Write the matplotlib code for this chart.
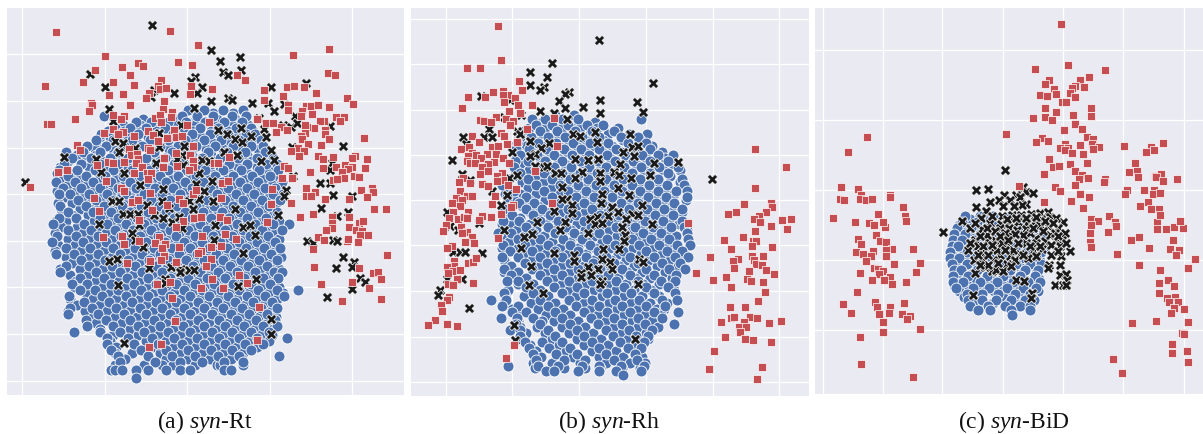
import matplotlib
matplotlib.use("Agg")
import matplotlib.pyplot as plt

LOWER = 630
captions = [("(a) ", "syn", "-Rt"), ("(b) ", "syn", "-Rh"), ("(c) ", "syn", "-BiD")]
xticks_a = [68,316,562,811,1057]
yticks_a = [163,304,445,583,723,862,1003,1143]
xticks_b = [122,322,523,724,924,1123]
yticks_b = [58,193,331,466,601,736,873,1009,1144]
xticks_c = [38,218,397,578,760,940,1123]
yticks_c = [151,361,571,780,990]

blue_a = {
330:[565,612,668,728],
348:[312,548,592,640,695,738],
366:[410,455,505,560,615,672,725],
384:[345,392,440,495,552,602,655,708,752],
402:[305,358,415,472,520,578,630,685,738,765],
420:[288,340,396,450,506,556,612,664,716,782],
438:[262,318,372,428,482,535,590,645,698,752,790],
456:[200,250,302,355,410,462,518,572,625,680,735,795],
474:[218,275,330,385,440,495,550,606,660,715,770,820],
492:[192,245,300,356,412,468,522,578,632,688,742,798,830],
510:[178,232,286,340,396,450,505,560,615,668,722,778,835],
528:[205,260,316,370,425,480,535,590,645,700,755,810],
546:[168,225,280,335,390,446,500,555,610,665,720,775,845],
564:[190,245,300,356,410,465,520,576,630,685,740,795,825],
582:[178,212,268,322,378,432,488,542,598,652,708,762,818,848],
600:[235,290,344,400,455,510,564,620,674,730,785,840],
618:[182,258,312,368,424,478,532,588,642,698,752,808],
636:[205,280,335,390,445,500,555,610,665,720,775,830],
654:[178,230,300,356,412,468,522,578,632,688,742,798],
672:[160,252,322,378,434,490,544,600,654,710,765,820,868],
690:[205,275,345,400,455,510,565,620,675,730,785,845],
708:[172,228,296,365,420,475,530,585,640,695,750,805],
726:[156,250,318,385,440,496,552,606,660,716,770,825],
744:[198,272,340,405,462,518,572,628,682,738,792,840],
762:[168,222,294,362,426,482,538,592,648,702,758,812],
780:[245,316,384,448,504,558,614,668,722,778,832],
798:[200,268,338,405,468,524,580,634,690,744,800],
816:[182,290,360,426,488,545,600,655,710,766,822,845],
834:[240,312,382,446,510,566,622,676,732,788,835],
852:[216,262,334,404,468,530,586,642,698,752,810],
870:[240,285,356,425,488,552,608,664,718,774,830,893],
888:[208,306,378,446,510,572,628,684,740,795,852],
906:[252,328,398,468,530,594,650,704,760,816],
924:[212,276,350,420,488,552,614,670,726,782,830],
942:[205,296,372,440,510,572,636,692,746,800],
960:[258,318,392,462,530,594,656,712,768,825],
978:[262,340,414,482,550,614,676,732,788,830],
996:[222,302,362,434,504,570,636,696,752,808],
1014:[322,384,456,524,592,656,716,772,860],
1032:[322,404,476,546,612,676,736,790],
1050:[335,424,498,566,634,696,754],
1068:[356,446,518,586,654,716,836],
1086:[362,466,540,606,672,730],
1110:[335,345,368,410,445,500,540,572,672,692],
1133:[410],
}
blue_a_fill = {
339:[590,640,700],
357:[430,480,530,590,650,705],
375:[370,420,470,530,585,640,695,745],
393:[325,372,418,470,525,580,632,684,735,760],
411:[302,330,385,445,495,552,605,660,712,752],
429:[290,360,412,470,530,582,638,690,745,775],
447:[255,285,340,398,452,508,560,618,670,725,775],
465:[232,290,350,410,465,522,578,632,690,742,805],
483:[205,260,312,368,424,478,534,590,646,698,755,812],
501:[180,268,328,384,440,495,550,604,660,715,770,822],
519:[172,218,300,356,412,466,522,578,634,688,742,800],
537:[190,240,298,350,405,460,516,570,626,682,736,790,838],
555:[205,262,318,372,428,484,538,594,648,704,758,815],
573:[172,228,282,338,394,448,502,558,614,668,722,780,845],
591:[195,254,310,364,420,474,530,584,640,694,750,806],
609:[175,218,274,330,386,440,496,552,606,660,716,772,828],
627:[184,240,296,350,406,462,516,570,626,682,736,792],
645:[218,266,320,374,430,484,540,594,650,704,760,818],
663:[170,200,282,340,396,452,506,562,616,672,726,782,838],
681:[185,232,300,360,416,472,526,582,638,692,748,802],
699:[165,250,320,380,438,494,548,604,658,712,768,826],
717:[205,272,340,400,456,512,566,622,676,732,786,838],
735:[176,225,292,362,420,476,532,588,642,698,752,806],
753:[165,245,312,380,440,496,552,608,664,718,774,825],
771:[198,268,336,400,460,516,570,626,682,738,794,842],
789:[218,290,356,420,480,536,592,646,702,756,816],
807:[182,242,310,376,442,498,556,612,666,722,780,838],
825:[210,265,335,400,462,518,574,630,686,742,806],
843:[230,288,358,424,482,540,596,652,706,762,825],
861:[222,310,378,444,504,560,616,672,728,784,838],
879:[260,330,400,464,524,580,636,690,748,806,850],
897:[210,280,350,420,486,544,600,656,712,772,830],
915:[232,300,372,442,506,566,622,678,734,792],
933:[206,255,322,392,462,526,586,642,698,754,812],
951:[280,345,412,484,548,606,664,720,778,828],
969:[290,366,436,504,570,628,684,742,800],
987:[300,392,458,524,590,650,706,764,818],
1005:[340,416,478,544,612,672,726,784,815],
1023:[330,438,500,566,632,694,750,808],
1041:[350,458,522,588,654,712,770],
1059:[345,396,480,544,610,672,730],
1077:[376,500,564,630,692,725],
1095:[345,432,486,520,586,650,660,728],
}
blue_b = {
345:[450,508],
358:[380,420,470,520,707],
376:[392,440,490,545,595],
394:[358,405,455,510,562,628],
412:[345,378,428,480,530,582,648,700],
430:[336,400,452,505,555,608,670,722],
448:[332,372,424,476,528,582,634,692,735],
466:[345,396,448,500,552,606,660,712,760,805],
484:[330,370,420,472,526,578,630,684,736,790],
502:[326,395,446,498,552,604,656,708,762,818],
520:[344,418,470,524,576,628,682,734,788],
538:[312,368,442,494,548,602,654,706,760,830],
556:[292,392,466,520,574,626,680,732,786,836],
574:[328,416,490,544,598,650,704,758,812,845],
592:[305,364,440,514,568,622,676,728,782,845],
610:[342,388,464,538,592,648,700,752,806],
628:[298,362,412,488,562,618,672,726,778,832],
646:[320,384,436,512,586,642,696,750,804],
664:[295,342,406,460,536,610,666,720,774,830],
682:[362,428,484,558,634,690,744,798,838],
700:[280,318,384,450,508,582,656,714,768,845],
718:[340,406,474,532,606,680,738,792,850],
736:[295,360,428,496,556,630,702,762,816,855],
754:[316,382,450,518,580,654,724,786,830],
772:[292,338,404,472,542,604,676,748,810,850],
790:[360,426,494,564,628,700,770,825],
808:[296,382,448,518,586,652,722,792,840],
826:[318,404,470,540,610,676,746,812],
844:[306,340,426,492,562,632,700,768,810],
862:[362,448,516,584,656,722,790],
880:[298,384,470,538,606,678,746,810],
898:[258,304,406,492,560,630,702,770,815],
916:[290,340,428,514,582,652,724,780],
934:[322,362,450,536,606,676,746,820],
952:[288,336,384,472,558,628,698,772],
970:[332,406,494,580,650,720,808],
988:[316,345,428,516,602,672,742],
1006:[344,450,538,624,694,730],
1024:[360,410,472,560,646,716],
1042:[372,432,494,582,668,708],
1060:[384,454,516,604,690],
1078:[392,476,540,626,696],
1096:[310,398,458,530,582,648,716],
1112:[422,446,520,582,632,708],
1125:[653],
}
blue_b_fill = {
367:[410,462,520,570],
385:[372,420,470,525,575,640],
403:[352,402,456,505,556,610,672,725],
421:[340,385,432,488,540,594,655,705],
439:[335,360,412,462,516,568,622,684,740],
457:[338,382,436,486,540,592,648,700,770],
475:[332,405,458,512,564,616,672,724,780],
493:[345,426,480,534,586,640,694,748,805],
511:[330,372,448,502,556,610,664,716,774,825],
529:[338,394,468,524,578,632,684,740,796],
547:[300,350,418,490,546,600,654,708,762,825],
565:[310,370,442,514,568,622,676,730,784,842],
583:[300,344,394,466,538,592,646,700,752,808],
601:[326,372,420,490,562,614,668,722,776,842],
619:[298,350,398,444,514,586,640,694,746,800],
637:[310,374,424,468,540,608,662,716,770,830],
655:[344,398,450,492,564,632,686,740,794],
673:[292,322,374,422,474,516,588,656,710,766,822],
691:[336,394,446,498,540,612,680,734,790,846],
709:[292,358,418,470,522,566,636,702,758,812],
727:[312,380,440,494,546,590,660,724,784,852],
745:[292,338,402,464,518,570,614,684,746,806],
763:[360,424,488,542,594,640,708,770,838],
781:[296,382,448,512,566,618,664,732,794],
799:[318,404,472,536,590,642,688,756,820],
817:[296,340,426,496,560,614,666,712,780],
835:[316,362,448,520,584,638,690,736,802],
853:[338,384,470,544,608,664,714,762],
871:[310,406,492,568,632,688,738,806],
889:[300,356,428,514,590,656,712,762],
907:[296,378,450,536,612,678,734,786],
925:[320,400,474,558,636,698,756,778],
943:[335,424,496,580,658,720,768],
961:[338,410,446,518,604,680,742],
979:[346,396,470,540,628,700,760],
997:[362,420,492,564,650,722],
1015:[350,440,516,588,670,728],
1033:[376,462,538,610,690],
1051:[394,484,560,632,705],
1069:[408,504,582,654,712],
1087:[384,440,524,604,676,720],
1103:[390,478,540,584,650,705],
}
blue_c = {
650:[465,510,550,600],
668:[455,500,545,590,640],
686:[440,482,530,575,625,670],
704:[432,465,510,560,605,650,700],
722:[428,455,495,540,590,635,680],
740:[425,445,485,525,575,620,665,705],
758:[420,470,510,560,605,650,695],
776:[420,448,495,540,590,635,680],
794:[425,470,520,570,620,660,695],
812:[432,452,500,550,600,645,685],
830:[430,475,530,580,630,675],
848:[428,458,510,560,610,655,692],
866:[438,490,538,590,640,680],
884:[470,515,565,615,660],
902:[475,515,558,605,645,672],
920:[480,535,585,630,660],
932:[503,540,605,662],
945:[606],
}
blue_c_fill = {
659:[480,528,575,622],
677:[446,520,565,612,655],
695:[460,505,550,600,648,690],
713:[442,486,532,582,628,675],
731:[440,470,515,562,612,658,700],
749:[428,460,495,540,585,630,680],
767:[425,482,525,570,618,662,692],
785:[435,468,510,556,604,648,690],
803:[438,486,530,580,632,675],
821:[445,490,542,592,640,680],
839:[440,495,545,598,644,688],
857:[432,472,525,575,625,668],
875:[448,502,552,602,650,685],
893:[462,500,580,628,668],
911:[490,548,598,640],
}

red_a_upper = [(169,97),(511,94),(595,137),(988,148),(879,167),(317,170),(415,191),(430,199),(367,201),(536,187),(577,197),(287,212),(250,248),(390,226),(339,248),(402,257),(137,260),(985,220),(1005,227),(711,225),(734,242),(483,241),(475,258),(482,268),(500,265),(575,260),(635,269),(793,271),(861,261),(881,260),(911,262),(949,280),(369,282),(329,285),(448,280),(440,296),(570,284),(494,304),(850,288),(793,301),(1040,296),(1059,312),(273,309),(277,316),(392,317),(863,317),(864,330),(918,320),(934,320),(953,316),(988,322),(905,333),(267,334),(490,328),(516,338),(340,347),(372,350),(227,358),(143,372),(155,373),(465,355),(481,347),(513,352),(364,358),(484,367),(562,376),(627,368),(772,358),(798,371),(818,369),(936,342),(904,350),(1009,353),(1032,352),(973,363),(1020,363),(961,365),(339,389),(312,400),(370,396),(355,402),(404,408),(446,393),(461,406),(524,392),(502,416),(528,412),(548,409),(475,423),(843,381),(828,398),(861,392),(943,384),(921,381),(976,391),(914,375),(914,400),(976,404),(902,408),(906,418),(1092,414),(988,419),(233,435),(242,450),(389,449),(446,445),(450,452),(580,439),(924,433),(963,435),(895,445),(872,455),(913,453),(896,470),(529,460),(395,466),(413,463),(415,477),(492,475),(572,465),(581,485),(688,473),(954,469),(1000,471),(1066,468),(1056,474),(1100,477),(970,478),(325,487),(339,491),(374,487),(410,489),(293,496),(428,503),(490,503),(532,499),(579,503),(568,511),(642,489),(655,489),(851,499),(863,506),(1008,503),(1034,497),(1056,501),(1096,505),(968,505),(1043,509),(175,517),(202,511),(403,520),(441,521),(455,521),(929,518),(1025,517),(445,537),(320,545),(666,549),(685,545),(847,536),(877,535),(1000,540),(1032,536),(1012,537),(1061,530),(1078,531),(91,562),(364,564),(373,575),(918,565),(817,568),(945,576),(1117,565),(1119,578),(1084,571),(450,581),(580,583),(588,570),(918,588),(934,588),(282,596),(398,605),(415,602),(539,598),(551,610),(664,596),(874,610),(974,599),(1048,598),(1102,592),(503,616),(814,613),(1123,626),(1157,628)]
red_a_lower = [(297,3),(940,12),(901,20),(418,30),(457,0),(551,32),(583,25),(605,22),(659,20),(682,31),(802,37),(996,22),(1046,22),(996,40),(1047,50),(1077,38),(1090,33),(995,55),(1067,60),(1085,63),(977,61),(530,50),(310,80),(366,79),(478,81),(608,78),(676,71),(707,87),(1105,74),(1079,76),(953,82),(973,91),(1040,93),(1044,87),(1075,96),(374,102),(419,93),(467,100),(495,101),(487,114),(537,110),(633,111),(662,109),(938,116),(604,124),(595,130),(494,138),(450,153),(484,151),(528,156),(634,146),(382,159),(1160,135),(617,168),(942,170),(1077,175),(1119,190),(1134,187),(1142,207),(716,196),(636,207),(472,222),(512,217),(741,220),(603,234),(668,233),(964,222),(1057,217),(1107,235),(516,265),(1144,268),(1025,273),(776,290),(526,333),(447,410),(483,402),(771,391)]
black_a_upper = [(456,75),(634,151),(661,183),(720,173),(723,211),(668,217),(685,225),(272,223),(317,263),(586,233),(573,245),(608,263),(523,279),(463,270),(455,291),(593,281),(634,303),(684,295),(696,302),(813,263),(917,250),(755,310),(803,311),(823,333),(853,312),(327,327),(584,325),(886,350),(776,355),(341,365),(543,375),(655,391),(723,385),(793,388),(850,375),(873,382),(892,370),(991,378),(477,400),(682,404),(705,418),(725,426),(753,408),(797,411),(345,425),(371,431),(405,446),(479,441),(554,440),(813,451),(877,443),(1030,438),(358,458),(194,471),(288,479),(546,465),(672,458),(710,465),(607,481),(628,484),(468,491),(533,478),(551,497),(782,483),(823,482),(305,517),(372,520),(598,521),(880,530),(995,490),(990,510),(421,556),(635,544),(589,553),(961,551),(990,550),(75,547),(489,568),(613,574),(858,570),(851,588),(1000,585),(338,604),(357,604),(487,603),(567,604),(598,597),(640,603),(1055,590),(443,615),(962,623),(507,625),(580,628),(705,628)]
black_a_lower = [(369,13),(391,12),(416,13),(463,15),(490,25),(518,37),(537,22),(546,53),(298,43),(417,44),(646,44),(729,52),(749,44),(835,15),(1012,18),(1045,5),(398,70),(405,90),(764,74),(430,112),(643,90),(920,92),(940,98),(1000,90),(1012,92),(728,130),(352,146),(328,152),(1028,141),(447,173),(513,171),(543,176),(541,186),(567,179),(583,180),(1063,155),(1057,170),(1007,175),(496,207),(496,220),(355,224),(768,208),(714,228),(1080,204),(1094,217),(1055,236),(981,261),(812,328),(812,372),(372,398)]

red_b_upper = [(279,78),(288,182),(185,204),(224,206),(342,243),(351,270),(265,278),(293,273),(189,293),(239,291),(308,286),(295,285),(331,296),(298,307),(381,315),(339,316),(172,324),(313,334),(345,340),(273,350),(224,360),(236,363),(257,366),(302,357),(325,362),(314,375),(447,354),(366,388),(288,398),(201,408),(298,408),(223,426),(335,426),(457,438),(307,432),(261,440),(279,437),(167,447),(193,442),(1051,446),(245,463),(273,463),(202,459),(213,464),(188,468),(228,475),(295,473),(186,484),(196,490),(210,490),(268,487),(250,491),(313,489),(232,500),(250,514),(226,522),(1142,501),(391,513),(292,520),(275,529),(175,535),(295,540),(277,544),(163,545),(195,549),(232,553),(250,558),(308,555),(270,588),(334,568),(164,574),(186,589),(202,587),(1051,563),(153,595),(172,601),(140,609),(262,612),(441,610),(1017,611),(1099,608),(323,614),(318,620),(165,618),(1102,622)]
red_b_lower = [(145,7),(188,5),(133,25),(160,27),(177,22),(187,25),(231,18),(221,29),(259,21),(287,12),(848,39),(969,12),(994,7),(1083,5),(1063,18),(1046,27),(1065,37),(1130,31),(1158,26),(1098,49),(1147,57),(122,46),(167,52),(114,62),(185,67),(170,68),(1050,64),(1013,80),(279,84),(200,82),(179,97),(207,99),(957,91),(1045,92),(1053,94),(1040,107),(977,116),(1100,110),(140,107),(127,114),(1040,137),(1074,139),(914,140),(147,152),(998,146),(985,152),(1047,150),(1054,163),(1071,165),(148,168),(189,159),(205,155),(214,143),(126,170),(986,173),(144,184),(166,181),(128,190),(873,190),(1033,182),(1083,179),(1106,192),(962,200),(156,208),(924,210),(1025,206),(1037,212),(1074,216),(204,219),(130,222),(143,225),(978,232),(1081,247),(133,262),(127,268),(1058,271),(109,285),(111,301),(974,290),(1019,291),(948,334),(977,323),(988,321),(1035,320),(1056,324),(1017,335),(91,330),(70,343),(127,342),(156,347),(1092,339),(1127,332),(1002,349),(1024,351),(1006,364),(961,380),(1021,385),(1043,389),(1098,395),(326,405),(927,422),(304,442),(912,475),(1071,469),(1056,506)]
black_b_upper = [(583,121),(440,191),(376,216),(426,232),(744,251),(375,256),(417,262),(405,272),(491,278),(481,284),(228,290),(461,305),(315,300),(584,301),(695,307),(533,321),(480,323),(405,333),(714,336),(584,340),(447,338),(348,345),(487,356),(298,352),(252,388),(337,392),(344,403),(503,401),(525,408),(570,396),(675,401),(174,412),(238,412),(262,412),(376,423),(431,428),(182,431),(577,425),(680,442),(700,437),(409,445),(655,456),(391,461),(375,467),(322,457),(686,468),(141,481),(510,477),(578,476),(549,481),(645,491),(748,490),(818,487),(418,500),(427,499),(390,498),(530,515),(628,516),(450,518),(468,519),(643,525),(586,520),(735,526),(335,524),(170,522),(511,535),(585,544),(677,533),(921,537),(312,535),(195,540),(472,562),(640,564),(260,573),(592,582),(306,584),(673,584),(485,597),(470,598),(501,615),(588,608),(287,615),(710,615),(622,620)]
black_b_lower = [(125,5),(448,3),(502,10),(577,20),(609,17),(640,5),(682,13),(698,14),(555,28),(662,26),(571,43),(591,40),(397,36),(480,36),(652,50),(742,42),(223,40),(135,47),(297,60),(466,59),(380,71),(358,82),(550,70),(660,74),(658,92),(160,60),(348,115),(595,116),(643,118),(447,130),(508,136),(507,153),(590,148),(615,156),(145,125),(165,125),(181,125),(231,130),(703,148),(714,155),(377,167),(549,171),(579,178),(622,177),(528,188),(558,194),(529,201),(125,207),(170,207),(590,212),(586,222),(699,221),(373,226),(105,240),(415,249),(100,254),(191,293),(328,343),(331,390),(689,385)]

red_c_upper = [(753,73),(775,195),(677,208),(885,211),(839,230),(719,239),(706,251),(811,241),(795,258),(787,264),(822,261),(733,268),(781,280),(692,285),(711,288),(739,281),(795,291),(758,306),(770,306),(705,324),(844,323),(738,337),(705,351),(791,345),(845,349),(671,355),(728,361),(797,372),(818,386),(763,390),(588,401),(172,411),(832,410),(849,417),(697,415),(716,423),(680,426),(846,431),(810,436),(767,433),(944,438),(1059,429),(867,442),(851,446),(752,445),(775,445),(766,450),(1024,441),(1034,449),(1010,456),(113,456),(788,459),(820,461),(717,476),(975,489),(731,501),(748,499),(782,491),(832,490),(795,513),(958,517),(983,514),(984,530),(1036,528),(1055,523),(1040,532),(818,525),(703,521),(807,538),(836,535),(885,538),(882,545),(1101,536),(1061,542),(797,555),(627,558),(737,561),(93,561),(143,566),(750,574),(1002,571),(1034,569),(951,569),(946,581),(1030,583),(1052,580),(153,585),(810,581),(837,590),(241,586),(239,592),(89,596),(103,599),(151,597),(167,601),(186,596),(783,603),(702,608),(1016,608),(279,621),(991,620),(819,626),(1023,627),(1047,628)]
red_c_lower = [(68,25),(204,13),(135,36),(176,41),(193,47),(226,53),(219,36),(285,20),(289,33),(845,28),(864,34),(897,19),(917,37),(918,50),(845,47),(894,66),(842,70),(1041,36),(1050,16),(1043,59),(1070,59),(1092,51),(1121,56),(1112,35),(198,76),(145,88),(153,103),(211,93),(227,96),(841,96),(844,113),(965,90),(988,83),(1089,91),(1018,114),(1080,118),(1107,121),(309,118),(245,117),(228,121),(137,127),(159,133),(190,125),(183,138),(229,140),(923,133),(1098,137),(169,154),(1156,148),(252,164),(329,160),(988,166),(193,175),(205,178),(220,183),(208,192),(151,189),(318,188),(1136,176),(1050,180),(240,203),(187,210),(221,211),(247,222),(288,217),(1047,221),(1076,210),(1092,230),(141,246),(1048,250),(1072,265),(1096,263),(1105,276),(1079,278),(195,277),(282,279),(99,283),(201,292),(239,293),(1093,294),(1124,297),(122,309),(207,312),(238,311),(275,313),(301,319),(292,329),(1083,310),(218,338),(1038,334),(1135,336),(966,341),(329,357),(218,368),(1116,369),(1124,374),(150,382),(1086,404),(1088,430),(1131,423),(911,449),(153,462),(1134,456),(937,489),(308,502)]
black_c_upper = [(586,510),(499,570),(534,568),(640,560),(650,575),(670,579),(583,584),(620,584),(632,590),(568,599),(600,600),(541,607),(650,612),(637,615),(499,623),(580,620),(613,620)]
black_c_lower = [(529,5),(575,18),(608,17),(635,15),(665,12),(690,10),(715,8),(512,25),(455,33),(573,42),(597,38),(625,38),(651,40),(675,35),(695,27),(722,22),(760,38),(480,55),(515,58),(570,55),(597,55),(622,60),(650,58),(690,45),(715,50),(745,55),(765,71),(400,66),(495,90),(503,108),(532,95),(555,90),(590,105),(610,85),(648,100),(680,85),(705,95),(740,95),(757,90),(752,110),(473,120),(512,130),(550,118),(570,137),(600,138),(630,132),(670,125),(698,117),(725,135),(755,140),(780,123),(492,152),(517,148),(655,145),(590,162),(548,150),(717,165),(751,165),(715,175),(526,172),(494,189),(545,185),(558,182),(580,185),(750,195),(768,193),(620,210),(642,213),(737,226),(760,226),(772,212),(768,226),(666,250),(665,265),(489,257),(540,40),(600,75),(660,70),(680,100),(530,75),(560,120),(640,75),(610,120),(575,100),(720,75),
(545,20),(590,28),(620,25),(650,25),(680,22),(705,35),(740,25),(730,40),(495,40),(530,55),(555,65),(585,70),(615,72),(670,55),(700,65),(735,70),(745,80),(510,80),(480,100),(520,110),(545,105),(570,80),(595,90),(625,100),(660,110),(690,110),(725,105),(505,135),(535,135),(585,120),(615,150),(640,135),(680,140),(565,160),(535,165),(605,170),(510,165),(745,125),(770,100)]

plt.rcParams['mathtext.fontset'] = 'custom'
plt.rcParams['mathtext.it'] = 'Liberation Serif:italic'
plt.rcParams['mathtext.rm'] = 'Liberation Serif'
W, H = 1203, 434
fig = plt.figure(figsize=(W/100, H/100), dpi=100, facecolor='white')

panels = [
 (7,404,8,395,(22,1212),(1185,25),xticks_a,yticks_a,[blue_a_fill,blue_a],red_a_upper,red_a_lower,black_a_upper,black_a_lower,205),
 (411,809,8,396,(18,1212),(1187,25),xticks_b,yticks_b,[blue_b_fill,blue_b],red_b_upper,red_b_lower,black_b_upper,black_b_lower,609),
 (815,1203,8,394,(15,1180),(1183,24),xticks_c,yticks_c,[blue_c_fill,blue_c],red_c_upper,red_c_lower,black_c_upper,black_c_lower,1014),
]

def unpack(upper, lower):
    pts = list(upper) + [(x, y + LOWER) for x, y in lower]
    return [p[0] for p in pts], [p[1] for p in pts]

for (l,r,t,b,xl,yl,xt,yt,blues,ru,rl,ku,kl,cx),cap in zip(panels,captions):
    ax = fig.add_axes([l/W, 1-b/H, (r-l)/W, (b-t)/H], facecolor='#eaeaf2')
    ax.set_xlim(*xl); ax.set_ylim(*yl)
    ax.set_xticks(xt); ax.set_yticks(yt)
    ax.tick_params(length=0, labelbottom=False, labelleft=False)
    ax.grid(True, color='white', lw=0.9, zorder=0)
    ax.set_axisbelow(True)
    for s in ax.spines.values():
        s.set_visible(False)
    for blue in blues:
        bx = [x for y, xs in blue.items() for x in xs]
        by = [y for y, xs in blue.items() for x in xs]
        ax.scatter(bx, by, s=62, c='#4c72b0', edgecolors='white', linewidths=0.6, zorder=2)
    kx, ky = unpack(ku, kl)
    ax.scatter(kx, ky, s=55, c='#1a1a1a', marker='X', edgecolors='white', linewidths=0.5, zorder=3)
    rx, ry = unpack(ru, rl)
    ax.scatter(rx, ry, s=30, c='#c44e52', marker='s', edgecolors='white', linewidths=0.5, zorder=4)
    fig.text(cx/W, 1-422/H, cap[0] + r'$\mathit{' + cap[1] + '}$' + cap[2],
             ha='center', va='center', fontsize=17, family='Liberation Serif', color='#111111')

fig.savefig('out.png', dpi=100, facecolor='white')
